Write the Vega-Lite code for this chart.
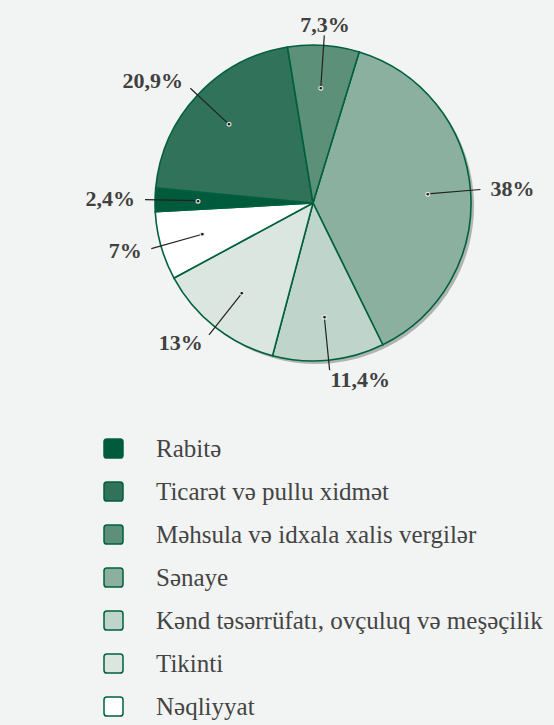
{
  "$schema": "https://vega.github.io/schema/vega-lite/v6.json",
  "width": 482,
  "height": 406,
  "autosize": "none",
  "padding": {"left": 72, "top": 0, "right": 0, "bottom": 319},
  "background": "#f2f4f3",
  "config": {"view": {"stroke": null}},
  "data": {
    "values": [
      {"cat": "Sənaye", "value": 38, "o": 1, "label": "38%"},
      {"cat": "Kənd təsərrüfatı, ovçuluq və meşəçilik", "value": 11.4, "o": 2, "label": "11,4%"},
      {"cat": "Tikinti", "value": 13, "o": 3, "label": "13%"},
      {"cat": "Nəqliyyat", "value": 7, "o": 4, "label": "7%"},
      {"cat": "Rabitə", "value": 2.4, "o": 5, "label": "2,4%"},
      {"cat": "Ticarət və pullu xidmət", "value": 20.9, "o": 6, "label": "20,9%"},
      {"cat": "Məhsula və idxala xalis vergilər", "value": 7.3, "o": 7, "label": "7,3%"}
    ]
  },
  "transform": [
    {"window": [{"op": "sum", "field": "value", "as": "cum"}], "sort": [{"field": "o"}], "frame": [null, 0]},
    {"calculate": "datum.cum - datum.value", "as": "start"},
    {"calculate": "datum.cum - datum.value / 2", "as": "mid"}
  ],
  "layer": [
    {
      "mark": {"type": "arc", "outerRadius": 158, "fill": "#aeb5b1", "xOffset": 3, "yOffset": 3},
      "encoding": {
        "theta": {"field": "start", "type": "quantitative", "scale": {"domain": [0, 100], "range": [0.2967, 6.5799]}},
        "theta2": {"field": "cum"}
      }
    },
    {
      "mark": {"type": "arc", "outerRadius": 158, "stroke": "#00603f", "strokeWidth": 1.6},
      "encoding": {
        "theta": {"field": "start", "type": "quantitative", "scale": {"domain": [0, 100], "range": [0.2967, 6.5799]}},
        "theta2": {"field": "cum"},
        "color": {
          "field": "cat",
          "type": "nominal",
          "scale": {
            "domain": ["Rabitə", "Ticarət və pullu xidmət", "Məhsula və idxala xalis vergilər", "Sənaye", "Kənd təsərrüfatı, ovçuluq və meşəçilik", "Tikinti", "Nəqliyyat"],
            "range": ["#005a3c", "#30735a", "#5c9078", "#8bb0a0", "#bfd5cb", "#dce6e0", "#ffffff"]
          },
          "legend": {
            "title": null,
            "orient": "none",
            "legendX": 29,
            "legendY": 436,
            "padding": 0,
            "symbolType": "M-1,-0.7Q-1,-1 -0.7,-1L0.7,-1Q1,-1 1,-0.7L1,0.7Q1,1 0.7,1L-0.7,1Q-1,1 -1,0.7Z",
            "symbolSize": 361,
            "symbolStrokeColor": "#00603f",
            "symbolStrokeWidth": 1.5,
            "symbolOpacity": 1,
            "labelFont": "Liberation Serif, Times New Roman, serif",
            "labelFontSize": 25,
            "labelColor": "#444444",
            "labelOffset": 30,
            "labelLimit": 500,
            "rowPadding": 17
          }
        }
      }
    },
    {
      "mark": {"type": "arc", "outerRadius": 168, "innerRadius": 115, "stroke": "#222222", "strokeWidth": 1.2, "fillOpacity": 0},
      "encoding": {
        "theta": {"field": "mid", "type": "quantitative", "stack": null, "scale": {"domain": [0, 100], "range": [0.2967, 6.5799]}},
        "theta2": {"field": "mid"}
      }
    },
    {
      "mark": {"type": "text", "radius": 115, "text": "●", "fontSize": 9, "fill": "#1a1a1a", "stroke": "#ffffff", "strokeWidth": 0.8, "baseline": "middle", "align": "center"},
      "encoding": {
        "theta": {"field": "mid", "type": "quantitative", "stack": null, "scale": {"domain": [0, 100], "range": [0.2967, 6.5799]}}
      }
    },
    {
      "mark": {
        "type": "text",
        "radius": 178,
        "font": "Liberation Serif, Times New Roman, serif",
        "fontSize": 22,
        "fontWeight": "bold",
        "fill": "#404040",
        "baseline": "middle",
        "align": {"expr": "datum.mid > 5 && datum.mid < 46 ? 'left' : (datum.mid > 50 && datum.mid < 95 ? 'right' : 'center')"}
      },
      "encoding": {
        "theta": {"field": "mid", "type": "quantitative", "stack": null, "scale": {"domain": [0, 100], "range": [0.2967, 6.5799]}},
        "text": {"field": "label"}
      }
    }
  ]
}
